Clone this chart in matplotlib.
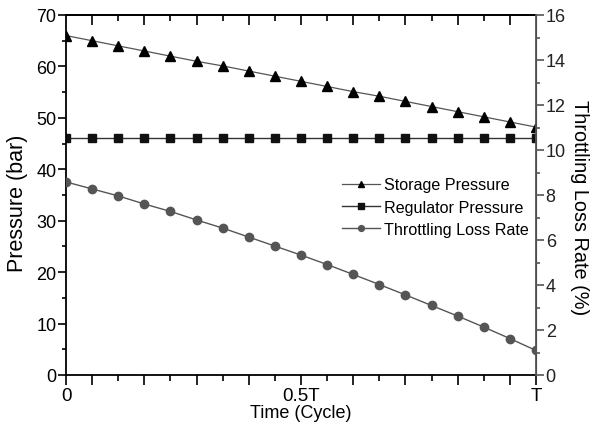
import matplotlib
matplotlib.use("Agg")
import matplotlib.pyplot as plt
from matplotlib.ticker import MultipleLocator, FixedLocator, FixedFormatter
import numpy as np

plt.rcParams['font.family'] = ['Liberation Sans', 'DejaVu Sans']

# cycle steps (0 .. T in 18 steps)
steps = np.arange(19)
storage_pressure = [66.0, 65.0, 64.0, 63.0, 62.0, 61.0, 60.1, 59.1, 58.1, 57.1,
                    56.1, 55.1, 54.2, 53.2, 52.2, 51.2, 50.2, 49.2, 48.2]
regulator_pressure = [46.0] * 19
loss_rate = [8.58, 8.27, 7.96, 7.60, 7.27, 6.89, 6.53, 6.13, 5.73, 5.33,
             4.91, 4.47, 4.02, 3.56, 3.09, 2.62, 2.13, 1.62, 1.09]
x_labels = ['0', '0.5T', 'T']

fig = plt.figure(figsize=(5.96, 4.27), dpi=100)
ax = fig.add_axes([66/596, 1-376/427, 470/596, 360/427])
ax2 = ax.twinx()

# === series ===
l1, = ax.plot(steps, storage_pressure, color='#555555', lw=0.9, marker='^',
              ms=6.5, mfc='black', mec='black', label='Storage Pressure')
l2, = ax.plot(steps, regulator_pressure, color='#333333', lw=1.0, marker='s',
              ms=5.5, mfc='#111111', mec='#111111', label='Regulator Pressure')
l3, = ax2.plot(steps, loss_rate, color='#555555', lw=1.0, marker='o',
               ms=6, mfc='#555555', mec='#555555', label='Throttling Loss Rate')

ax.set_xlim(0, 18)
ax.set_ylim(0, 70)
ax2.set_ylim(0, 16)

# === ticks ===
ax.xaxis.set_major_locator(FixedLocator([0, 1, 3, 5, 7, 9, 11, 13, 15, 17, 18]))
ax.xaxis.set_major_formatter(FixedFormatter([x_labels[0], '', '', '', '', x_labels[1],
                                             '', '', '', '', x_labels[2]]))
ax.xaxis.set_minor_locator(FixedLocator([2, 4, 6, 8, 10, 12, 14, 16]))
ax.yaxis.set_major_locator(MultipleLocator(10))
ax.yaxis.set_minor_locator(MultipleLocator(5))
ax2.yaxis.set_major_locator(MultipleLocator(2))
ax2.yaxis.set_minor_locator(MultipleLocator(1))

ax.tick_params(axis='x', which='major', direction='out', length=7, width=1.2,
               labelsize=13.5, pad=2, top=False)
ax.tick_params(axis='x', which='minor', direction='out', length=4, width=1.2, top=False)
ax.tick_params(axis='y', which='major', direction='out', length=6, width=1.2,
               labelsize=13, pad=1, colors='black')
ax.tick_params(axis='y', which='minor', direction='out', length=3, width=1.2)
ax2.tick_params(axis='y', which='major', direction='out', length=6, width=1.2,
                labelsize=13, pad=1, color='#555555', labelcolor='#222222')
ax2.tick_params(axis='y', which='minor', direction='out', length=3, width=1.2,
                color='#555555')

# inward ticks along the top edge
secx = ax.secondary_xaxis('top')
secx.xaxis.set_major_locator(FixedLocator([1, 3, 5, 7, 9, 11, 13, 15, 17]))
secx.xaxis.set_minor_locator(FixedLocator([2, 4, 6, 8, 10, 12, 14, 16]))
secx.tick_params(which='major', direction='in', length=7, width=1.2, labeltop=False)
secx.tick_params(which='minor', direction='in', length=4, width=1.2)
secx.spines['top'].set_linewidth(1.3)

for s in ['left', 'bottom', 'top']:
    ax.spines[s].set_linewidth(1.3)
ax2.spines['right'].set_color('#555555')
ax2.spines['right'].set_linewidth(1.3)
for s in ['left', 'bottom', 'top']:
    ax2.spines[s].set_visible(False)

ax.set_xlabel('Time (Cycle)', fontsize=13, labelpad=0)
ax.set_ylabel('Pressure (bar)', fontsize=15.5)
ax.yaxis.set_label_coords(-0.08, 0.48)
ax2.set_ylabel('Throttling Loss Rate (%)', fontsize=14.3, rotation=270, va='bottom')
ax2.yaxis.set_label_coords(1.072, 0.467)

fig.legend(handles=[l1, l2, l3], loc='upper left',
           bbox_to_anchor=(336/596, 1-172/427), frameon=False, fontsize=11.6,
           handlelength=2.3, handletextpad=0.3, labelspacing=0.45, borderaxespad=0,
           markerscale=0.7)

fig.savefig('out.png', dpi=100)
